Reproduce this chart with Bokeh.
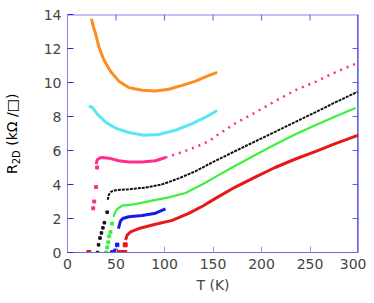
from bokeh.plotting import figure
from bokeh.models import FixedTicker, Range1d, Div
from bokeh.layouts import row
from bokeh.embed import file_html
from bokeh.resources import INLINE

# ---------------- data ----------------
x_ticks = [0, 50, 100, 150, 200, 250, 300]
y_ticks = [0, 2, 4, 6, 8, 10, 12, 14]

orange_T = [24.7, 26.5, 28.9, 32.3, 37.4, 44.3, 52.9, 63.2, 77, 90.7, 104.4, 118.2, 132, 144, 154.3]
orange_R = [13.75, 13.3, 12.88, 12.1, 11.34, 10.66, 10.08, 9.7, 9.54, 9.5, 9.6, 9.83, 10.08, 10.37, 10.6]

cyan_T = [22, 25.5, 30.6, 39.2, 49.5, 63.2, 78.7, 94.1, 111.3, 128.6, 142.3, 154.3]
cyan_R = [8.6, 8.54, 8.15, 7.67, 7.32, 7.06, 6.9, 6.94, 7.19, 7.58, 7.96, 8.35]

pink_tr_T = [26.5, 27.5, 29.5, 30.5]
pink_tr_R = [2.6, 3.0, 3.85, 5.0]
pink_T = [29.5, 30.6, 33, 35.8, 42.6, 52.9, 63.2, 77, 90.7, 101,
          114.7, 132, 146, 153, 173, 194, 214, 235, 256, 276, 299]
pink_R = [5.2, 5.45, 5.55, 5.59, 5.55, 5.4, 5.32, 5.32, 5.4, 5.59,
          5.84, 6.2, 6.55, 6.85, 7.6, 8.25, 8.9, 9.55, 10.05, 10.6, 11.15]

black_tr_T = [31, 32, 33.5, 35, 36.5, 38, 40.9]
black_tr_R = [0, 0.45, 0.85, 1.15, 1.45, 1.75, 2.37]
black_T = [41.5, 42.6, 45, 49.5, 63.2, 80.4, 97.6, 114.7, 132, 149.2,
           173, 194, 214, 235, 256, 276, 299]
black_R = [3.1, 3.4, 3.58, 3.66, 3.72, 3.82, 4.01, 4.36, 4.78, 5.3,
           5.97, 6.55, 7.1, 7.68, 8.26, 8.83, 9.45]

green_tr_T = [40, 41, 42, 43, 44.3, 46]
green_tr_R = [0, 0.3, 0.6, 0.95, 1.2, 1.7]
green_T = [47.5, 49, 51.2, 56.4, 70, 87.3, 104.4, 121.6, 138.8, 152.6,
           173, 194, 214, 235, 256, 276, 297]
green_R = [2.1, 2.35, 2.56, 2.76, 2.85, 3.05, 3.24, 3.5, 4.0, 4.45,
           5.1, 5.75, 6.35, 6.95, 7.5, 8.0, 8.5]

blue_tr_T = [46, 47.5, 49.5, 51.2]
blue_tr_R = [0, 0, 0.1, 0.45]
blue_T = [52.5, 54.6, 57, 63.2, 77, 90.7, 101]
blue_R = [1.4, 1.85, 2.0, 2.1, 2.18, 2.31, 2.56]

red_tr_T = [22, 52, 55, 57.5, 59, 59.5]
red_tr_R = [0, 0, 0, 0, 0, 0.45]
red_T = [59.8, 61.5, 65, 73.5, 90.7, 107.9, 125, 140, 153, 173,
         194, 214, 235, 256, 276, 300]
red_R = [0.73, 1.02, 1.21, 1.41, 1.66, 1.89, 2.3, 2.75, 3.2, 3.85,
         4.45, 5.0, 5.5, 5.95, 6.4, 6.9]

# ---------------- figure ----------------
FONT = "DejaVu Sans"
LABEL_W = 24
p = figure(width=366 - LABEL_W, height=295, output_backend="svg", toolbar_location=None,
           x_range=Range1d(x_ticks[0], x_ticks[-1]), y_range=Range1d(y_ticks[0], y_ticks[-1]),
           min_border_left=67 - LABEL_W, min_border_right=8, min_border_top=14,
           min_border_bottom=39, outline_line_color=None)
p.xgrid.visible = False
p.ygrid.visible = False
p.background_fill_color = "white"
p.border_fill_color = "white"

light = "#8585f0"
dark = "#2a2ae0"

xa = p.xaxis[0]
xa.ticker = FixedTicker(ticks=x_ticks)
xa.axis_line_color = "#6a6af0"
xa.major_tick_line_color = "#9a9af2"
xa.major_tick_in = 6
xa.major_tick_out = 0
xa.minor_tick_line_color = None
xa.major_label_text_font = FONT
xa.major_label_text_font_size = "14px"
xa.major_label_standoff = 6
xa.axis_label = "T (K)"
xa.axis_label_text_font = FONT
xa.axis_label_text_font_size = "14px"
xa.axis_label_text_font_style = "normal"
xa.axis_label_standoff = 5

ya = p.yaxis[0]
ya.ticker = FixedTicker(ticks=y_ticks)
ya.axis_line_color = light
ya.major_tick_line_color = dark
ya.major_tick_in = 6
ya.major_tick_out = 0
ya.minor_tick_line_color = None
ya.major_label_text_font = FONT
ya.major_label_text_font_size = "14px"
ya.major_label_standoff = 6

# mirrored frame lines and inward ticks on top / right (from the tick lists)
x_in = x_ticks[1:-1]
y_in = y_ticks[1:-1]
tick_dx = 6 / 0.97
tick_dy = 6 / 17.29
p.segment(x0=[x_ticks[0]], x1=[x_ticks[-1]], y0=[y_ticks[-1]], y1=[y_ticks[-1]],
          line_color=light, line_width=2)
p.segment(x0=[x_ticks[-1]], x1=[x_ticks[-1]], y0=[y_ticks[0]], y1=[y_ticks[-1]],
          line_color=dark, line_width=2.4)
p.segment(x0=x_in, x1=x_in, y0=[y_ticks[-1]] * len(x_in),
          y1=[y_ticks[-1] - tick_dy] * len(x_in), line_color="#7070f0", line_width=1.2)
p.segment(x0=[x_ticks[-1]] * len(y_in), x1=[x_ticks[-1] - tick_dx] * len(y_in),
          y0=y_in, y1=y_in, line_color="#6060ee", line_width=1.2)

# ---------------- series ----------------
p.line(orange_T, orange_R, line_color="#ff8c1e", line_width=3)
p.line(cyan_T, cyan_R, line_color="#5ae6f5", line_width=3)

n_low = 10
p.line(pink_T[:n_low], pink_R[:n_low], line_color="#ff2d8c", line_width=3)
p.line(pink_T[n_low - 1:], pink_R[n_low - 1:], line_color="#ff2d8c", line_width=2.5,
       line_dash="2 5")
p.scatter(pink_tr_T, pink_tr_R, marker="square", size=3, color="#ff2d8c")

p.line(black_T, black_R, line_color="#111111", line_width=2, line_dash="3 1")
p.scatter(black_tr_T, black_tr_R, marker="square", size=2.5, color="#111111")

p.line(green_T, green_R, line_color="#3ef03e", line_width=2.2)
p.scatter(green_tr_T, green_tr_R, marker="square", size=3, color="#3ef03e")

p.line(blue_T, blue_R, line_color="#1a1ae6", line_width=3)
p.scatter(blue_tr_T, blue_tr_R, marker="square", size=3.5, color="#1a1ae6")

p.line(red_T, red_R, line_color="#e81818", line_width=3)
p.scatter(red_tr_T, red_tr_R, marker="square", size=4, color="#e81818")

# ---------------- y-axis title (rotated HTML text with subscript) ----------------
ylabel_html = (
    '<div style="position:relative;width:%dpx;height:295px;">'
    '<div style="position:absolute;left:5px;top:174px;transform-origin:0 0;'
    'transform:rotate(-90deg);white-space:nowrap;font-family:\'DejaVu Sans\';'
    'font-size:14px;line-height:14px;color:#000;">'
    'R<span style="font-size:10px;position:relative;top:3px;">2D</span> (kΩ /□)'
    '</div></div>' % LABEL_W
)
ylab = Div(text=ylabel_html, width=LABEL_W, height=295, margin=0)

layout = row(ylab, p, spacing=0)
open("out.html", "w").write(file_html(layout, INLINE))
